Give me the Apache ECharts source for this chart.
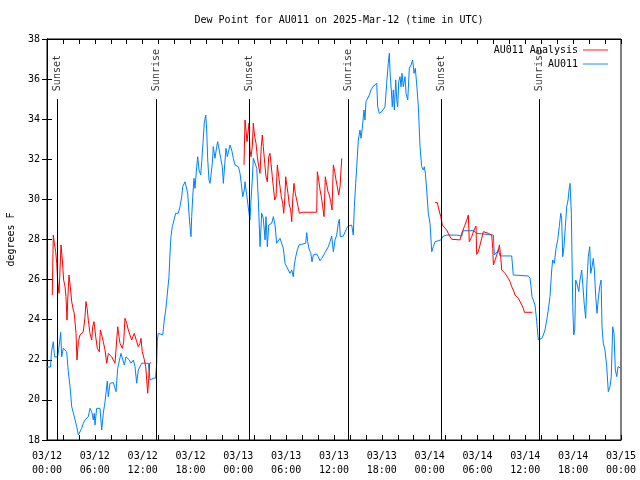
<!DOCTYPE html>
<html><head><meta charset="utf-8">
<script src="https://cdn.jsdelivr.net/npm/echarts@6/dist/echarts.min.js"></script>
<style>html,body{margin:0;padding:0;background:#fff}#c{width:640px;height:480px}</style>
</head><body><div id="c"></div>
<script>
// hours since 03/12 00:00 UTC, dew point in F
const blueData = [[0,21.64],[0.44,21.64],[0.56,22.39],[0.79,22.9],[0.94,22.15],[1.25,22.14],[1.38,22.24],[1.72,23.37],[1.84,22.15],[2.04,22.57],[2.26,22.49],[2.47,22.4],[2.67,21.41],[2.89,20.66],[3.1,19.66],[3.3,19.36],[3.51,19.33],[3.73,18.66],[3.93,18.25],[4.14,18.33],[4.35,18.58],[4.55,18.83],[4.77,19],[4.98,19],[5.18,19.16],[5.39,19.58],[5.61,19.41],[5.81,19],[5.93,19.33],[6.02,18.75],[6.23,19.58],[6.65,19.58],[6.86,18.5],[7.06,19.33],[7.28,19.91],[7.49,20],[7.56,20.94],[7.69,20.16],[7.9,20.83],[8.32,20.86],[8.53,20.83],[8.66,20.41],[8.87,21.58],[9.07,21.66],[9.28,22.32],[9.5,22.4],[9.7,21.74],[9.91,22.15],[10.12,22.24],[10.32,21.99],[10.54,21.83],[10.83,21.99],[11.04,21.66],[11.25,20.83],[11.45,21.49],[11.67,21.66],[11.88,21.83],[12.71,21.83],[12.92,20.99],[13.33,21.08],[13.61,21.08],[13.76,21.83],[13.84,22.99],[13.96,23.32],[14.17,23.24],[14.51,23.24],[14.59,23.49],[14.71,23.99],[14.89,24.48],[15.02,24.98],[15.14,25.48],[15.3,26.14],[15.43,27.31],[15.55,28.14],[15.72,28.64],[15.93,28.97],[16.14,29.31],[16.47,29.31],[16.68,29.64],[16.9,30.13],[17.02,30.63],[17.31,30.88],[17.52,30.97],[17.65,30.3],[17.81,29.31],[17.94,28.64],[18.06,28.14],[18.15,29.14],[18.28,30.13],[18.44,31.05],[18.56,30.55],[18.78,31.63],[18.9,32.13],[19.07,31.47],[19.28,31.22],[19.41,31.88],[19.61,31.97],[19.73,33.8],[19.91,34.21],[20.03,33.46],[20.16,31.97],[20.32,30.97],[20.45,30.8],[20.57,31.22],[20.74,31.8],[20.86,32.63],[21.07,32.05],[21.29,32.63],[21.41,32.88],[21.61,32.88],[21.79,32.05],[21.99,31.63],[22.12,30.8],[22.29,31.72],[22.45,32.55],[22.62,32.13],[22.79,32.21],[22.96,32.71],[23.17,32.46],[23.37,32.05],[23.58,31.72],[24,31.63],[24.21,31.3],[24.37,30.8],[24.55,30.13],[24.62,30.05],[24.75,30.47],[24.84,30.88],[25.05,30.22],[25.18,29.81],[25.34,29.31],[25.46,28.97],[25.59,29.97],[25.75,30.97],[25.88,32.05],[26.09,32.05],[26.31,31.55],[26.51,29.97],[26.72,27.64],[26.93,29.31],[27.13,29.06],[27.35,27.98],[27.47,29.14],[27.64,27.64],[27.81,28.72],[27.97,28.64],[28.19,28.81],[28.39,29.14],[28.6,28.72],[28.81,27.81],[29.23,28.06],[29.44,28.06],[29.64,27.56],[29.86,26.81],[30.07,26.73],[30.27,26.48],[30.48,26.31],[30.7,26.48],[30.9,26.14],[31.02,26.73],[31.2,27.14],[31.4,27.48],[31.61,27.73],[31.82,27.81],[32.45,27.81],[32.58,28.34],[32.7,27.89],[32.9,27.48],[33.08,27.34],[33.24,26.89],[33.41,27.23],[33.83,27.28],[34.03,27.14],[34.25,26.94],[34.46,27.06],[34.66,27.14],[34.87,27.34],[35.09,27.39],[35.29,27.64],[35.5,27.89],[35.71,28.17],[35.92,27.39],[36.13,27.98],[36.34,28.22],[36.54,28.81],[36.67,29.01],[36.79,28.14],[36.97,28.06],[37.17,28.17],[37.38,28.22],[37.59,28.56],[37.8,28.67],[38.22,28.72],[38.42,28.22],[38.55,29.64],[38.72,30.8],[38.85,31.63],[39.05,32.96],[39.26,33.46],[39.39,33.05],[39.55,33.55],[39.76,34.46],[39.89,33.96],[40.01,34.87],[40.23,34.96],[40.43,35.21],[40.64,35.46],[40.86,35.62],[41.36,35.79],[41.48,34.62],[41.68,34.29],[41.98,34.37],[42.19,34.29],[42.4,34.62],[42.61,35.79],[42.81,36.79],[42.94,37.29],[43.06,36.12],[43.19,35.46],[43.31,34.62],[43.44,35.46],[43.57,34.46],[43.74,35.96],[43.87,34.96],[43.99,34.62],[44.12,35.87],[44.28,36.12],[44.41,35.62],[44.53,36.29],[44.69,35.62],[44.91,36.12],[45.03,35.29],[45.25,34.96],[45.45,36.54],[45.66,36.7],[45.87,36.95],[46.04,36.29],[46.2,36.54],[46.38,35.71],[46.58,34.62],[46.79,32.63],[47,31.63],[47.21,31.47],[47.33,31.63],[47.46,31.3],[47.63,30.47],[47.83,29.31],[48.04,28.81],[48.26,27.39],[48.46,27.64],[48.67,27.89],[49.08,27.94],[49.42,27.98],[49.71,28.17],[50.14,28.22],[51.39,28.22],[52.02,28.17],[52.22,28.44],[53.48,28.44],[53.9,28.31],[54.1,28.22],[55.99,28.22],[56.11,27.23],[56.29,27.18],[56.49,27.39],[56.62,27.51],[56.83,27.18],[58.29,27.18],[58.49,26.23],[58.71,26.18],[60.38,26.18],[60.59,26.06],[60.71,25.65],[60.84,25.15],[61,24.98],[61.22,24.73],[61.43,23.9],[61.63,22.99],[61.84,22.99],[62.06,23.07],[62.26,23.24],[62.47,23.49],[62.68,23.99],[62.88,24.48],[63.09,25.15],[63.31,26.48],[63.43,26.98],[63.64,26.81],[63.85,27.56],[64.06,27.98],[64.26,28.64],[64.44,29.31],[64.56,29.06],[64.69,27.14],[64.85,27.64],[65.02,28.64],[65.19,29.64],[65.36,29.97],[65.48,30.47],[65.61,30.8],[65.77,29.31],[65.95,24.65],[66.07,23.24],[66.2,23.49],[66.32,25.98],[66.52,25.73],[66.7,25.4],[66.86,25.98],[67.07,26.48],[67.27,26.48],[67.4,24.73],[67.57,24.07],[67.74,25.98],[67.9,27.14],[68.08,27.64],[68.2,26.31],[68.37,26.64],[68.53,27.06],[68.66,26.48],[68.83,25.15],[68.99,24.32],[69.16,25.07],[69.33,25.65],[69.5,25.98],[69.62,23.65],[69.78,22.82],[69.99,22.49],[70.21,21.66],[70.41,20.41],[70.62,20.66],[70.78,21.16],[70.96,23.65],[71.12,23.32],[71.29,21.49],[71.47,21.16],[71.63,21.66],[71.97,21.58]];

const redSeg1 = [[0.66,25.23],[0.79,28.22],[0.92,27.81],[1.09,27.39],[1.22,26.81],[1.34,25.9],[1.51,25.32],[1.63,26.48],[1.76,27.73],[1.92,26.98],[2.09,25.98],[2.26,25.65],[2.38,25.15],[2.51,23.98],[2.6,24.98],[2.76,26.23],[2.92,25.65],[3.1,24.9],[3.3,24.48],[3.42,24.32],[3.64,23.32],[3.76,21.99],[3.93,22.9],[4.14,23.24],[4.55,23.4],[4.77,24.15],[4.89,24.9],[5.06,24.48],[5.18,23.98],[5.39,23.32],[5.61,22.99],[5.73,23.65],[5.9,23.9],[6.11,23.15],[6.31,22.57],[6.56,22.4],[6.69,23.49],[6.86,23.24],[7.06,22.9],[7.28,22.49],[7.49,21.83],[7.69,22.32],[8.11,22.15],[8.32,21.99],[8.53,21.83],[8.74,21.74],[8.87,23.65],[9.03,23.15],[9.16,22.82],[9.45,22.57],[9.62,22.9],[9.78,24.07],[10,23.82],[10.2,23.49],[10.41,23.24],[10.62,22.99],[10.83,22.9],[10.95,23.32],[11.25,22.9],[11.45,22.65],[11.67,22.82],[11.79,23.07],[11.95,22.4],[12.17,22.07],[12.38,21.66],[12.51,20.99],[12.63,20.33],[12.76,21.08],[12.88,21.83],[13.05,21.86]];
const redSeg2 = [[24.71,31.72],[24.84,33.96],[24.96,33.46],[25.09,32.88],[25.21,32.8],[25.34,33.8],[25.46,32.46],[25.59,32.13],[25.75,32.63],[25.88,33.8],[26.05,33.13],[26.22,32.8],[26.38,32.13],[26.56,31.63],[26.72,31.3],[26.88,32.63],[27.01,33.21],[27.13,32.63],[27.31,31.8],[27.47,31.13],[27.64,30.88],[27.81,32.13],[27.97,32.3],[28.1,31.8],[28.26,31.13],[28.39,30.63],[28.56,29.97],[28.73,30.13],[28.89,31.72],[29.07,31.13],[29.23,30.63],[29.39,30.13],[29.57,29.81],[29.69,29.31],[29.82,29.97],[29.94,31.13],[30.07,30.72],[30.23,30.3],[30.39,29.72],[30.57,29.47],[30.7,28.89],[30.82,29.97],[30.98,30.8],[31.15,30.3],[31.32,29.97],[31.49,29.64],[31.65,29.31],[32.15,29.36],[33.83,29.36],[33.91,31.38],[34.08,30.97],[34.25,30.47],[34.41,30.13],[34.58,29.64],[34.75,29.14],[34.91,31.13],[35.09,30.72],[35.25,30.38],[35.41,30.22],[35.59,29.89],[35.75,29.47],[35.92,31.72],[36.09,31.38],[36.25,30.97],[36.42,30.63],[36.59,30.22],[36.76,30.63],[36.97,32.05]];
const redSeg3 = [[48.67,29.84],[48.96,29.84],[49.17,29.47],[49.39,29.14],[49.59,28.72],[49.84,28.64],[50.14,28.47],[50.43,28.22],[50.77,28.01],[51.81,27.98],[52.02,28.31],[52.35,28.64],[52.65,28.97],[52.85,29.22],[52.97,27.89],[53.27,28.14],[53.56,28.47],[53.81,28.67],[53.9,27.26],[54.1,27.39],[54.32,27.73],[54.53,28.06],[54.73,28.39],[55.36,28.31],[55.78,28.22],[55.91,27.56],[55.99,26.73],[56.21,26.98],[56.42,27.23],[56.62,27.48],[56.75,27.73],[56.91,27.14],[57.04,26.48],[57.45,26.31],[57.87,26.06],[58.08,25.9],[58.29,25.65],[58.49,25.48],[58.71,25.23],[59.12,25.07],[59.34,24.9],[59.55,24.73],[59.75,24.57],[59.88,24.37],[60.88,24.37]];

const sunHours = [1.29, 13.75, 25.38, 37.80, 49.46, 61.76];
const sunLabels = ['Sunset', 'Sunrise', 'Sunset', 'Sunrise', 'Sunset', 'Sunrise'];
const xTickLabels = ['03/12\n00:00','03/12\n06:00','03/12\n12:00','03/12\n18:00','03/13\n00:00','03/13\n06:00','03/13\n12:00','03/13\n18:00','03/14\n00:00','03/14\n06:00','03/14\n12:00','03/14\n18:00','03/15\n00:00'];

const FONT = 'DejaVu Sans Mono';
const RED = '#ff0000', BLUE = '#0080ff';
const chart = echarts.init(document.getElementById('c'), null, {renderer: 'canvas'});

const xBase = {type: 'value', min: 0, max: 72, interval: 2, splitLine: {show: false},
  axisLine: {show: true, lineStyle: {color: '#000', width: 1}},
  axisTick: {show: true, inside: true, length: 5, lineStyle: {color: '#000'}}};
const yBase = {type: 'value', min: 18, max: 38, interval: 2, splitLine: {show: false},
  axisLine: {show: true, lineStyle: {color: '#000', width: 1}},
  axisTick: {show: true, inside: true, length: 5, lineStyle: {color: '#000'}}};

const redSeries = [redSeg1, redSeg2, redSeg3].map(seg => ({
  name: 'AU011 Analysis', type: 'line', data: seg, symbol: 'none', showSymbol: false,
  lineStyle: {color: RED, width: 1}, itemStyle: {color: RED}, z: 4
}));

chart.setOption({
  animation: false,
  backgroundColor: '#fff',
  title: {text: 'Dew Point for AU011 on 2025-Mar-12 (time in UTC)', left: 334, textAlign: 'center', top: 10,
    textStyle: {fontFamily: FONT, fontSize: 10, fontWeight: 'normal', color: '#000'}},
  grid: {left: 47, right: 19, top: 39, bottom: 40, containLabel: false, outerBoundsMode: 'none',
    show: true, borderColor: '#000', borderWidth: 1, backgroundColor: 'transparent'},
  legend: {data: ['AU011 Analysis', 'AU011'], orient: 'vertical', right: 27, top: 40, align: 'right',
    itemWidth: 25, itemHeight: 10, itemGap: 4, icon: 'path://M0,4.5 L28,4.5 L28,5.5 L0,5.5 Z',
    textStyle: {fontFamily: FONT, fontSize: 10, color: '#000'}},
  xAxis: [
    Object.assign({}, xBase, {position: 'bottom',
      axisLabel: {show: true, fontFamily: FONT, fontSize: 10, color: '#000', margin: 9, lineHeight: 14,
        formatter: v => (v % 6 === 0 ? xTickLabels[v / 6] : '')}}),
    Object.assign({}, xBase, {position: 'top', axisLabel: {show: false}})
  ],
  yAxis: [
    Object.assign({}, yBase, {position: 'left', name: 'degrees F', nameLocation: 'middle', nameGap: 31, nameRotate: 90,
      nameTextStyle: {fontFamily: FONT, fontSize: 10, color: '#000'},
      axisLabel: {show: true, fontFamily: FONT, fontSize: 10, color: '#000', margin: 7}}),
    Object.assign({}, yBase, {position: 'right', axisLabel: {show: false}})
  ],
  series: [
    {name: 'AU011', type: 'line', data: blueData, symbol: 'none', showSymbol: false,
      lineStyle: {color: BLUE, width: 1}, itemStyle: {color: BLUE}, z: 3,
      markLine: {silent: true, symbol: ['none', 'none'], label: {show: false},
        lineStyle: {color: '#000', width: 1, type: 'solid'},
        data: sunHours.map(h => [{coord: [h, 18]}, {coord: [h, 35]}])}},
    ...redSeries,
    {name: 'sun', type: 'scatter', symbolSize: 0, silent: true, z: 5,
      data: sunHours.map((h, i) => ({value: [h, 35], name: sunLabels[i]})),
      label: {show: true, formatter: '{b}', position: 'top', rotate: 90, align: 'left', verticalAlign: 'middle',
        distance: 7, offset: [1, 0], fontFamily: FONT, fontSize: 10, color: '#000'}}
  ]
});
</script></body></html>
